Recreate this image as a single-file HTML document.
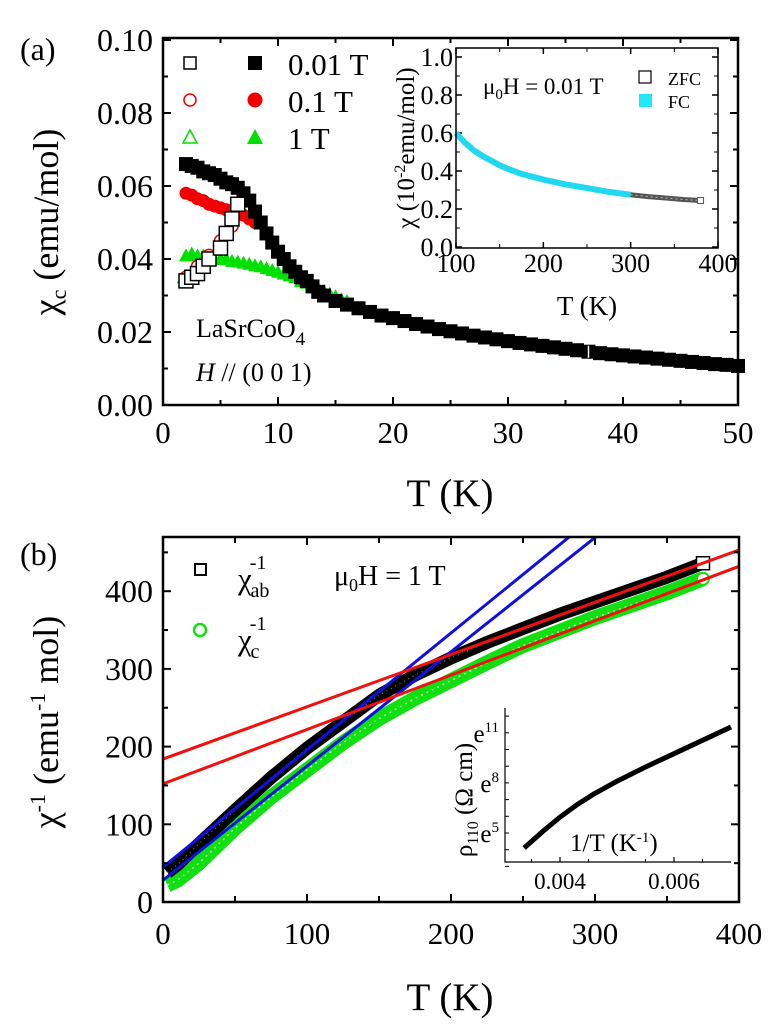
<!DOCTYPE html>
<html><head><meta charset="utf-8"><style>
body{margin:0;background:#fff}
svg{display:block;font-family:"Liberation Serif",serif}
</style></head><body>
<svg id="fig" width="774" height="1024" viewBox="0 0 774 1024" xmlns="http://www.w3.org/2000/svg">
<g id="pa"></g>
<g id="pb"></g>
</svg>
<script>
// ---------- Panel (a) data ----------
const aFcT = [2,2.5,3,3.5,4,4.5,5,5.5,6,6.5,7,7.5,8,8.5,9,9.5,10,10.5,11,11.5,12,12.5,13,13.5,14,15,16,17,18,19,20,21,22,23,24,25,26,27,28,29,30,31,32,33,34,35,36,37,38,39,40,41,42,43,44,45,46,47,48,49,50];
const aFc001 = [.066,.0655,.065,.064,.0635,.063,.062,.061,.0605,.0595,.058,.056,.053,.050,.047,.0445,.042,.040,.038,.0365,.035,.034,.0325,.031,.030,.0285,.0275,.0265,.0255,.0245,.0238,.023,.0222,.0215,.0208,.0202,.0196,.019,.0185,.018,.0175,.017,.0166,.0162,.0158,.0154,.015,.0146,.0142,.0139,.0136,.0133,.013,.0127,.0124,.0121,.0118,.0115,.0112,.011,.0107];
const aFc01T = [2,2.5,3,3.5,4,4.5,5,5.5,6,6.5,7,7.5,8];
const aFc01 = [.058,.0575,.0565,.056,.055,.0545,.054,.0535,.053,.0525,.052,.051,.050];
const aFc1T = [1.8,2,2.5,3,3.5,4,4.5,5,5.5,6,6.5,7,7.5,8,8.5,9,9.5,10,10.5,11,11.5,12,12.5,13,13.5,14,14.5,15,15.5,16];
const aFc1 = [.035,.041,.0415,.041,.041,.0405,.040,.040,.040,.0395,.0393,.039,.0387,.0383,.038,.0375,.037,.0365,.036,.0355,.035,.034,.0335,.033,.032,.0312,.0305,.0298,.029,.0285];
const aZfc001T = [2,2.5,3,3.5,4,5,5.5,6,6.5];
const aZfc001 = [.034,.035,.036,.038,.040,.043,.047,.051,.055];
const aZfc01T = [2,3,4,5,6];
const aZfc01 = [.035,.038,.041,.045,.049];
const aXTicks = [0,10,20,30,40,50];
const aYTicks = [0,0.02,0.04,0.06,0.08,0.10];
const aYLabels = ["0.00","0.02","0.04","0.06","0.08","0.10"];
// inset (a)
const iFcT = [100,110,120,130,140,150,160,175,200,225,250,275,300];
const iFc = [.60,.55,.51,.48,.455,.43,.41,.385,.355,.33,.31,.29,.275];
const iZfcT = [300,320,340,360,380];
const iZfc = [.275,.265,.258,.25,.245];
const iXTicks = [100,200,300,400];
const iYTicks = [0,0.2,0.4,0.6,0.8,1.0];
// ---------- Panel (b) data ----------
const bT = [3,10,25,50,75,100,125,150,175,200,225,250,275,300,325,350,375];
const bChiAb = [38,48,75,118,160,198,232,266,292,314,334,352,370,386,402,418,436];
const bChiC = [22,28,50,95,135,170,205,236,262,285,308,330,348,366,382,398,416];
const bBlueA = [45,1.506]; // intercept, slope
const bBlueB = [28,1.47];
const bRedA = [184,0.6725];
const bRedB = [152,0.70];
const bXTicks = [0,100,200,300,400];
const bYTicks = [0,100,200,300,400];
// inset (b)
const rInvT = [0.00337,0.0037,0.0040,0.0043,0.0046,0.0050,0.0055,0.0060,0.0065,0.0070];
const rLn = [4.1,5.1,5.95,6.7,7.35,8.1,8.95,9.75,10.55,11.35];
const rXTicks = [0.004,0.006];
const rYTicks = [5,8,11];

const NS="http://www.w3.org/2000/svg";
function mk(parent,tag,attrs){const e=document.createElementNS(NS,tag);for(const k in attrs)e.setAttribute(k,attrs[k]);parent.appendChild(e);return e;}
function txt(parent,x,y,html,size,anchor,extra){const e=mk(parent,'text',Object.assign({x:x,y:y,'font-size':size,'text-anchor':anchor||'start'},extra||{}));e.innerHTML=html;return e;}

const pa=document.getElementById('pa');
const pb=document.getElementById('pb');

// ===== Panel a axes =====
const ax=v=>163+(v-0)*(738-163)/50;
const ay=v=>405-v*3650;
txt(pa,20,60,"(a)",32);
aXTicks.forEach((v,i)=>{
  const t=mk(pa,'line',{x1:ax(v),x2:ax(v),y1:405,y2:397,stroke:'#000','stroke-width':2});
   
  mk(pa,'line',{x1:ax(v),x2:ax(v),y1:38,y2:46,stroke:'#000','stroke-width':2});
  if(i<aXTicks.length-1){const m=v+5;mk(pa,'line',{x1:ax(m),x2:ax(m),y1:405,y2:400,stroke:'#000','stroke-width':2});mk(pa,'line',{x1:ax(m),x2:ax(m),y1:38,y2:43,stroke:'#000','stroke-width':2});}
  const l=txt(pa,ax(v),443,String(v),31,'middle');
   
});
aYTicks.forEach((v,i)=>{
  mk(pa,'line',{x1:163,x2:171,y1:ay(v),y2:ay(v),stroke:'#000','stroke-width':2});
  mk(pa,'line',{x1:738,x2:730,y1:ay(v),y2:ay(v),stroke:'#000','stroke-width':2});
  if(i<aYTicks.length-1){const m=v+0.01;mk(pa,'line',{x1:163,x2:168,y1:ay(m),y2:ay(m),stroke:'#000','stroke-width':2});mk(pa,'line',{x1:738,x2:733,y1:ay(m),y2:ay(m),stroke:'#000','stroke-width':2});}
  const l=txt(pa,153,ay(v)+11,aYLabels[i],32,'end');
   
});
aFc1T.forEach((t,i)=>{const x=ax(t),y=ay(aFc1[i]);const p=mk(pa,'polygon',{points:`${x-7},${y+6} ${x+7},${y+6} ${x},${y-7}`,fill:'#00e000'});
   });
aFcT.forEach((t,i)=>{if(t<16)return;const x=ax(t),y=ay(aFc001[i]+0.0004);mk(pa,'polygon',{points:`${x-6},${y+6} ${x+6},${y+6} ${x},${y-6}`,fill:'#00e000'});mk(pa,'circle',{cx:x+1,cy:ay(aFc001[i])+1,r:6,fill:'#f00000'});});
aFc01T.forEach((t,i)=>{const c=mk(pa,'circle',{cx:ax(t),cy:ay(aFc01[i]),r:6.5,fill:'#f00000'});
   });
aZfc01T.forEach((t,i)=>{const c=mk(pa,'circle',{cx:ax(t),cy:ay(aZfc01[i]),r:6,fill:'#fff',stroke:'#f00000','stroke-width':1.5});
   });
aFcT.forEach((t,i)=>{const r=mk(pa,'rect',{x:ax(t)-7,y:ay(aFc001[i])-7,width:14,height:14,fill:'#000'});
   });
aZfc001T.forEach((t,i)=>{const r=mk(pa,'rect',{x:ax(t)-7,y:ay(aZfc001[i])-7,width:14,height:14,fill:'#fff',stroke:'#000','stroke-width':1.5});
   });
mk(pa,'line',{x1:ax(37),x2:ax(37),y1:ay(0.0146)-6,y2:ay(0.0146)+6,stroke:'#fff','stroke-width':1.5});
mk(pa,'rect',{x:163,y:38,width:575,height:367,fill:'none',stroke:'#000','stroke-width':2.5});

const legA=mk(pa,'g',{});  
mk(legA,'rect',{x:184,y:57,width:12,height:12,fill:'#fff',stroke:'#000','stroke-width':1.5});
mk(legA,'rect',{x:248,y:56,width:14,height:14,fill:'#000'});
txt(legA,288,75,"0.01 T",31);
mk(legA,'circle',{cx:190,cy:100,r:6,fill:'#fff',stroke:'#f00000','stroke-width':1.5});
mk(legA,'circle',{cx:255,cy:100,r:7.5,fill:'#f00000'});
txt(legA,288,112,"0.1 T",31);
mk(legA,'polygon',{points:"183,143 197,143 190,130",fill:'#fff',stroke:'#00e000','stroke-width':1.5});
mk(legA,'polygon',{points:"247,144 263,144 255,129",fill:'#00e000'});
txt(legA,288,149,"1 T",31);
txt(pa,196,337,'LaSrCoO<tspan font-size="19" dy="8">4</tspan>',26);
txt(pa,196,381,'<tspan font-style="italic">H</tspan> // (0 0 1)',26);
const yta=txt(pa,0,0,'χ<tspan font-size="22" dy="8">c</tspan><tspan dy="-8"> (emu/mol)</tspan>',36,'middle',{transform:'translate(58,222) rotate(-90)'});
 
const xta=txt(pa,450,506,'T (K)',39,'middle');
 

// inset a
const ia=mk(pa,'g',{});  
const ix=v=>456+(v-100)*(718-456)/300;
const iy=v=>247-v*190;
mk(ia,'rect',{x:456,y:48,width:262,height:200,fill:'#fff'});
iXTicks.forEach((v,i)=>{mk(ia,'line',{x1:ix(v),x2:ix(v),y1:248,y2:242,stroke:'#000','stroke-width':1.5});mk(ia,'line',{x1:ix(v),x2:ix(v),y1:48,y2:54,stroke:'#000','stroke-width':1.5});
  if(i<iXTicks.length-1){mk(ia,'line',{x1:ix(v+50),x2:ix(v+50),y1:248,y2:244,stroke:'#000','stroke-width':1});mk(ia,'line',{x1:ix(v+50),x2:ix(v+50),y1:48,y2:52,stroke:'#000','stroke-width':1});}
  txt(ia,ix(v),272,String(v),26,'middle');});
iYTicks.forEach((v,i)=>{mk(ia,'line',{x1:456,x2:462,y1:iy(v),y2:iy(v),stroke:'#000','stroke-width':1.5});mk(ia,'line',{x1:718,x2:712,y1:iy(v),y2:iy(v),stroke:'#000','stroke-width':1.5});
  if(i<iYTicks.length-1){mk(ia,'line',{x1:456,x2:460,y1:iy(v+0.1),y2:iy(v+0.1),stroke:'#000','stroke-width':1});mk(ia,'line',{x1:718,x2:714,y1:iy(v+0.1),y2:iy(v+0.1),stroke:'#000','stroke-width':1});}
  txt(ia,453,iy(v)+9,v.toFixed(1),26,'end');});
const fcl=mk(ia,'polyline',{points:iFcT.map((t,i)=>ix(t)+','+iy(iFc[i])).join(' '),fill:'none',stroke:'#20d8f0','stroke-width':6});
 
const zl=mk(ia,'polyline',{points:iZfcT.map((t,i)=>ix(t)+','+iy(iZfc[i])).join(' '),fill:'none',stroke:'#555','stroke-width':5});
 
mk(ia,'polyline',{points:iZfcT.map((t,i)=>ix(t)+','+iy(iZfc[i])).join(' '),fill:'none',stroke:'#bbb','stroke-width':1,'stroke-dasharray':'2 3'});
mk(ia,'rect',{x:ix(380)-3,y:iy(.245)-3,width:6,height:6,fill:'#fff',stroke:'#555','stroke-width':1});
mk(ia,'rect',{x:456,y:48,width:262,height:200,fill:'none',stroke:'#000','stroke-width':1.5});
txt(ia,483,94,'μ<tspan font-size="15" dy="5">0</tspan><tspan dy="-5">H = 0.01 T</tspan>',23);
mk(ia,'rect',{x:639,y:71,width:12,height:12,fill:'#fff',stroke:'#000','stroke-width':1.2});
txt(ia,668,85,'ZFC',18);
mk(ia,'rect',{x:639,y:94,width:13,height:13,fill:'#20e8f8'});
txt(ia,668,108,'FC',18);
txt(ia,0,0,'χ (10<tspan font-size="16" dy="-9">-2</tspan><tspan dy="9">emu/mol)</tspan>',25,'middle',{transform:'translate(414,148) rotate(-90)'});
txt(ia,587,315,'T (K)',27,'middle');

// ===== Panel b =====
const bx=v=>163+v*(739-163)/400;
const by=v=>902-v*0.777;
txt(pb,20,565,"(b)",32);
const gl=mk(pb,'polyline',{points:bT.map((t,i)=>bx(t)+','+by(bChiC[i])).join(' '),fill:'none',stroke:'#10e010','stroke-width':15,'stroke-linejoin':'round'});
 
mk(pb,'polyline',{points:bT.map((t,i)=>bx(t)+','+by(bChiC[i])).join(' '),fill:'none',stroke:'#b8f8b0','stroke-width':1.5,'stroke-dasharray':'2 4'});
const kl=mk(pb,'polyline',{points:bT.map((t,i)=>bx(t)+','+by(bChiAb[i])).join(' '),fill:'none',stroke:'#000','stroke-width':13,'stroke-linejoin':'round'});
 
mk(pb,'polyline',{points:bT.map((t,i)=>bx(t)+','+by(bChiAb[i])).join(' '),fill:'none',stroke:'#888','stroke-width':1,'stroke-dasharray':'1 4'});
mk(pb,'rect',{x:bx(375)-6.5,y:by(436)-6.5,width:13,height:13,fill:'#fff',stroke:'#000','stroke-width':1.5});
mk(pb,'circle',{cx:bx(375),cy:by(416),r:6,fill:'#fff',stroke:'#10e010','stroke-width':2});
const clipb=mk(pb,'clipPath',{id:'cb'}); mk(clipb,'rect',{x:163,y:537,width:576,height:365});
[[bBlueA,'#1010e0','fit-line-blue-1'],[bBlueB,'#1010e0','fit-line-blue-2'],[bRedA,'#f01010','fit-line-red-1'],[bRedB,'#f01010','fit-line-red-2']].forEach(([p,c,n])=>{
  const l=mk(pb,'line',{x1:bx(0),y1:by(p[0]),x2:bx(400),y2:by(p[0]+p[1]*400),stroke:c,'stroke-width':3,'clip-path':'url(#cb)'});
   });
bXTicks.forEach((v,i)=>{mk(pb,'line',{x1:bx(v),x2:bx(v),y1:902,y2:894,stroke:'#000','stroke-width':2});mk(pb,'line',{x1:bx(v),x2:bx(v),y1:537,y2:545,stroke:'#000','stroke-width':2});
  if(i<bXTicks.length-1){mk(pb,'line',{x1:bx(v+50),x2:bx(v+50),y1:902,y2:896,stroke:'#000','stroke-width':2});mk(pb,'line',{x1:bx(v+50),x2:bx(v+50),y1:537,y2:543,stroke:'#000','stroke-width':2});}
  const l=txt(pb,bx(v),944,String(v),31,'middle');  });
bYTicks.forEach(v=>{mk(pb,'line',{x1:163,x2:171,y1:by(v),y2:by(v),stroke:'#000','stroke-width':2});mk(pb,'line',{x1:739,x2:731,y1:by(v),y2:by(v),stroke:'#000','stroke-width':2});
  mk(pb,'line',{x1:163,x2:168,y1:by(v+50),y2:by(v+50),stroke:'#000','stroke-width':2});mk(pb,'line',{x1:739,x2:734,y1:by(v+50),y2:by(v+50),stroke:'#000','stroke-width':2});
  const l=txt(pb,153,by(v)+11,String(v),32,'end');  });
mk(pb,'rect',{x:163,y:537,width:576,height:365,fill:'none',stroke:'#000','stroke-width':2.5});
const legB=mk(pb,'g',{});  
mk(legB,'rect',{x:195,y:564,width:11,height:11,fill:'#fff',stroke:'#000','stroke-width':2});
txt(legB,238,589,'χ<tspan font-size="20" dx="-2" dy="-20">-1</tspan><tspan font-size="20" dx="-16" dy="28">ab</tspan>',31);
mk(legB,'circle',{cx:200,cy:630,r:6,fill:'#fff',stroke:'#10e010','stroke-width':2.5});
txt(legB,238,650,'χ<tspan font-size="20" dx="-2" dy="-20">-1</tspan><tspan font-size="20" dx="-16" dy="28">c</tspan>',31);
txt(pb,334,585,'μ<tspan font-size="18" dy="6">0</tspan><tspan dy="-6">H = 1 T</tspan>',28);
const ytb=txt(pb,0,0,'χ<tspan font-size="22" dy="-13">-1</tspan><tspan dy="13"> (emu</tspan><tspan font-size="22" dy="-13">-1</tspan><tspan dy="13"> mol)</tspan>',36,'middle',{transform:'translate(58,722) rotate(-90)'});
 
const xtb=txt(pb,450,1010,'T (K)',39,'middle');  

// inset b
const ib=mk(pb,'g',{});  
const rx=v=>560+(v-0.004)*57000;
const ry=v=>833-(v-5)*16.7;
mk(ib,'polyline',{points:"505,708 505,862 731,862",fill:'none',stroke:'#000','stroke-width':1.2});
rXTicks.forEach(v=>{mk(ib,'line',{x1:rx(v),x2:rx(v),y1:862,y2:857,stroke:'#000','stroke-width':1.2});txt(ib,rx(v),889,v.toFixed(3),23,'middle');});
[0.0035,0.0045,0.0055,0.0065].forEach(v=>mk(ib,'line',{x1:rx(v),x2:rx(v),y1:862,y2:859,stroke:'#000','stroke-width':1}));
for(let k=3;k<=12;k++)mk(ib,'line',{x1:505,x2:509,y1:ry(k),y2:ry(k),stroke:'#000','stroke-width':1});
rYTicks.forEach(v=>{txt(ib,499,ry(v)+9,'e<tspan font-size="15" dy="-10">'+v+'</tspan>',25,'end');});
const rc=mk(ib,'polyline',{points:rInvT.map((t,i)=>rx(t)+','+ry(rLn[i])).join(' '),fill:'none',stroke:'#000','stroke-width':5,'stroke-linejoin':'round'});
 
txt(ib,570,851,'1/T (K<tspan font-size="15" dy="-9">-1</tspan><tspan dy="9">)</tspan>',25);
txt(ib,0,0,'ρ<tspan font-size="16" dy="6">110</tspan><tspan dy="-6"> (Ω cm)</tspan>',25,'middle',{transform:'translate(472,800) rotate(-90)'});
</script>
</body></html>
